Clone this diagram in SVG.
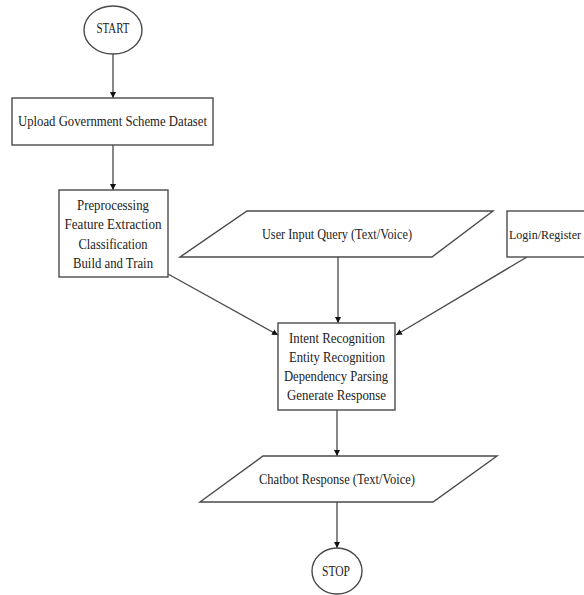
<svg xmlns="http://www.w3.org/2000/svg" width="584" height="595" viewBox="0 0 584 595">
<style>
.s{fill:#fff;stroke:#4a4a4a;stroke-width:1.4}
.t{font-family:"Liberation Serif","Times New Roman",serif;font-size:14px;fill:#222;text-anchor:middle}
.c{fill:none;stroke:#4a4a4a;stroke-width:1.3}
</style>
<defs>
<marker id="ah" viewBox="0 0 10 10" refX="10" refY="5" markerWidth="6" markerHeight="7" orient="auto" markerUnits="userSpaceOnUse">
<path d="M0,0 L10,5 L0,10 z" fill="#111"/>
</marker>
</defs>
<rect width="584" height="595" fill="#fff"/>
<g id="connectors">
<path class="c" d="M113,54 L113,98" marker-end="url(#ah)"/>
<path class="c" d="M113,145 L113,190" marker-end="url(#ah)"/>
<path class="c" d="M168,274 L278,335" marker-end="url(#ah)"/>
<path class="c" d="M338,257 L338,323" marker-end="url(#ah)"/>
<path class="c" d="M527,257 L396,335" marker-end="url(#ah)"/>
<path class="c" d="M337,410 L337,456" marker-end="url(#ah)"/>
<path class="c" d="M337,502 L337,548" marker-end="url(#ah)"/>
</g>
<g id="start">
<ellipse class="s" cx="113" cy="30" rx="29" ry="24"/>
<text class="t" x="113" y="33" textLength="33" lengthAdjust="spacingAndGlyphs">START</text>
</g>
<g id="upload">
<rect class="s" x="12" y="98" width="201" height="47"/>
<text class="t" x="112.5" y="126" textLength="189" lengthAdjust="spacingAndGlyphs">Upload Government Scheme Dataset</text>
</g>
<g id="preprocess">
<rect class="s" x="59" y="190" width="109" height="87"/>
<text class="t" x="113" y="210" textLength="72" lengthAdjust="spacingAndGlyphs">Preprocessing</text>
<text class="t" x="113" y="229" textLength="97" lengthAdjust="spacingAndGlyphs">Feature Extraction</text>
<text class="t" x="113" y="249" textLength="69" lengthAdjust="spacingAndGlyphs">Classification</text>
<text class="t" x="113" y="268" textLength="80" lengthAdjust="spacingAndGlyphs">Build and Train</text>
</g>
<g id="userinput">
<polygon class="s" points="247,211 493,211 432,257 180,257"/>
<text class="t" x="337" y="239" textLength="150" lengthAdjust="spacingAndGlyphs">User Input Query (Text/Voice)</text>
</g>
<g id="login">
<rect class="s" x="507" y="211" width="100" height="46"/>
<text class="t" x="509" y="239" style="text-anchor:start;font-size:12px">Login/Register</text>
</g>
<g id="intent">
<rect class="s" x="278" y="323" width="117" height="87"/>
<text class="t" x="337" y="343" textLength="96" lengthAdjust="spacingAndGlyphs">Intent Recognition</text>
<text class="t" x="337" y="362" textLength="96" lengthAdjust="spacingAndGlyphs">Entity Recognition</text>
<text class="t" x="336" y="381" textLength="104" lengthAdjust="spacingAndGlyphs">Dependency Parsing</text>
<text class="t" x="336.5" y="400" textLength="99" lengthAdjust="spacingAndGlyphs">Generate Response</text>
</g>
<g id="chatbot">
<polygon class="s" points="263,456 497,456 433,502 200,502"/>
<text class="t" x="337" y="484" textLength="156" lengthAdjust="spacingAndGlyphs">Chatbot Response (Text/Voice)</text>
</g>
<g id="stop">
<ellipse class="s" cx="337" cy="571" rx="25" ry="23"/>
<text class="t" x="336" y="576" textLength="28" lengthAdjust="spacingAndGlyphs">STOP</text>
</g>
</svg>
